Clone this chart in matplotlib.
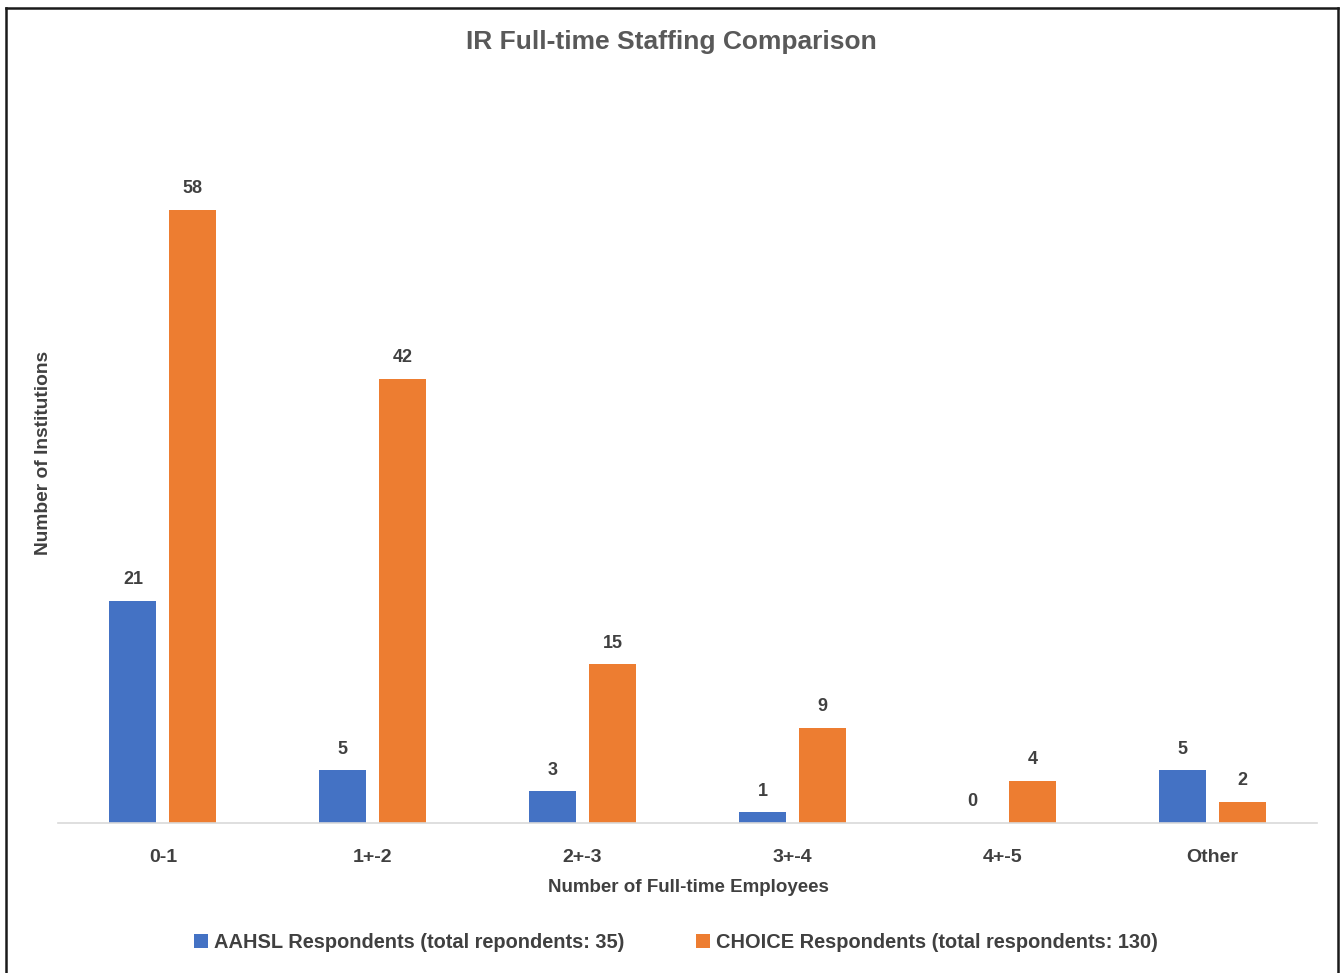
import matplotlib
matplotlib.use("Agg")
import matplotlib.pyplot as plt
import numpy as np

categories = ["0-1", "1+-2", "2+-3", "3+-4", "4+-5", "Other"]
aahsl = [21, 5, 3, 1, 0, 5]
choice = [58, 42, 15, 9, 4, 2]
series_names = ["AAHSL Respondents (total repondents: 35)",
                "CHOICE Respondents (total respondents: 130)"]

plt.rcParams["font.family"] = ["Liberation Sans", "DejaVu Sans"]

BLUE = "#4472C4"
ORANGE = "#ED7D31"
TXT = "#404040"

W, H = 1340, 973
fig = plt.figure(figsize=(W / 100, H / 100), dpi=100)
ax = fig.add_axes([58 / W, 1 - 823 / H, (1317 - 58) / W, (823 - 83) / H])

x = np.arange(len(categories))
bw = 0.224
off = 0.143
b1 = ax.bar(x - off, aahsl, bw, color=BLUE, label=series_names[0])
b2 = ax.bar(x + off, choice, bw, color=ORANGE, label=series_names[1])

for bars, vals in ((b1, aahsl), (b2, choice)):
    for r, v in zip(bars, vals):
        ax.annotate(str(v), (r.get_x() + r.get_width() / 2, r.get_height()),
                    xytext=(0, 9), textcoords="offset points", ha="center", va="bottom",
                    fontsize=13, fontweight="bold", color=TXT)

ax.set_xlim(-0.5, len(categories) - 0.5)
ax.set_ylim(0, 70)
ax.set_yticks([])
ax.set_xticks(x)
ax.set_xticklabels(categories, fontsize=14, fontweight="bold", color=TXT)
ax.tick_params(axis="x", length=0, pad=19)
for s in ("top", "right", "left"):
    ax.spines[s].set_visible(False)
ax.spines["bottom"].set_color("#D9D9D9")
ax.spines["bottom"].set_linewidth(1.2)

fig.text(671 / W, 1 - 42 / H, "IR Full-time Staffing Comparison", ha="center", va="center",
         fontsize=19, fontweight="bold", color="#595959")
fig.text(44 / W, 1 - 453 / H, "Number of Institutions", ha="center", va="center",
         rotation=90, fontsize=13.8, fontweight="bold", color=TXT)
fig.text(688 / W, 1 - 887 / H, "Number of Full-time Employees", ha="center", va="center",
         fontsize=13.5, fontweight="bold", color=TXT)

fig.legend(handles=[b1, b2], labels=series_names, loc="center",
           bbox_to_anchor=(676 / W, 1 - 942 / H), ncol=2, frameon=False,
           prop={"size": 14.4, "weight": "bold"}, handlelength=0.7, handleheight=0.7,
           handletextpad=0.3, columnspacing=3.6, labelcolor=TXT)

# outer frame
fx0, fx1, fy1 = 5.5 / W, 1337.5 / W, 1 - 7.5 / H
for xs, ys in (([fx0, fx0], [0, fy1]), ([fx0, fx1], [fy1, fy1]), ([fx1, fx1], [fy1, 0])):
    fig.add_artist(plt.Line2D(xs, ys, color="#1a1a1a", linewidth=1.8, transform=fig.transFigure))

fig.savefig("out.png", dpi=100)
